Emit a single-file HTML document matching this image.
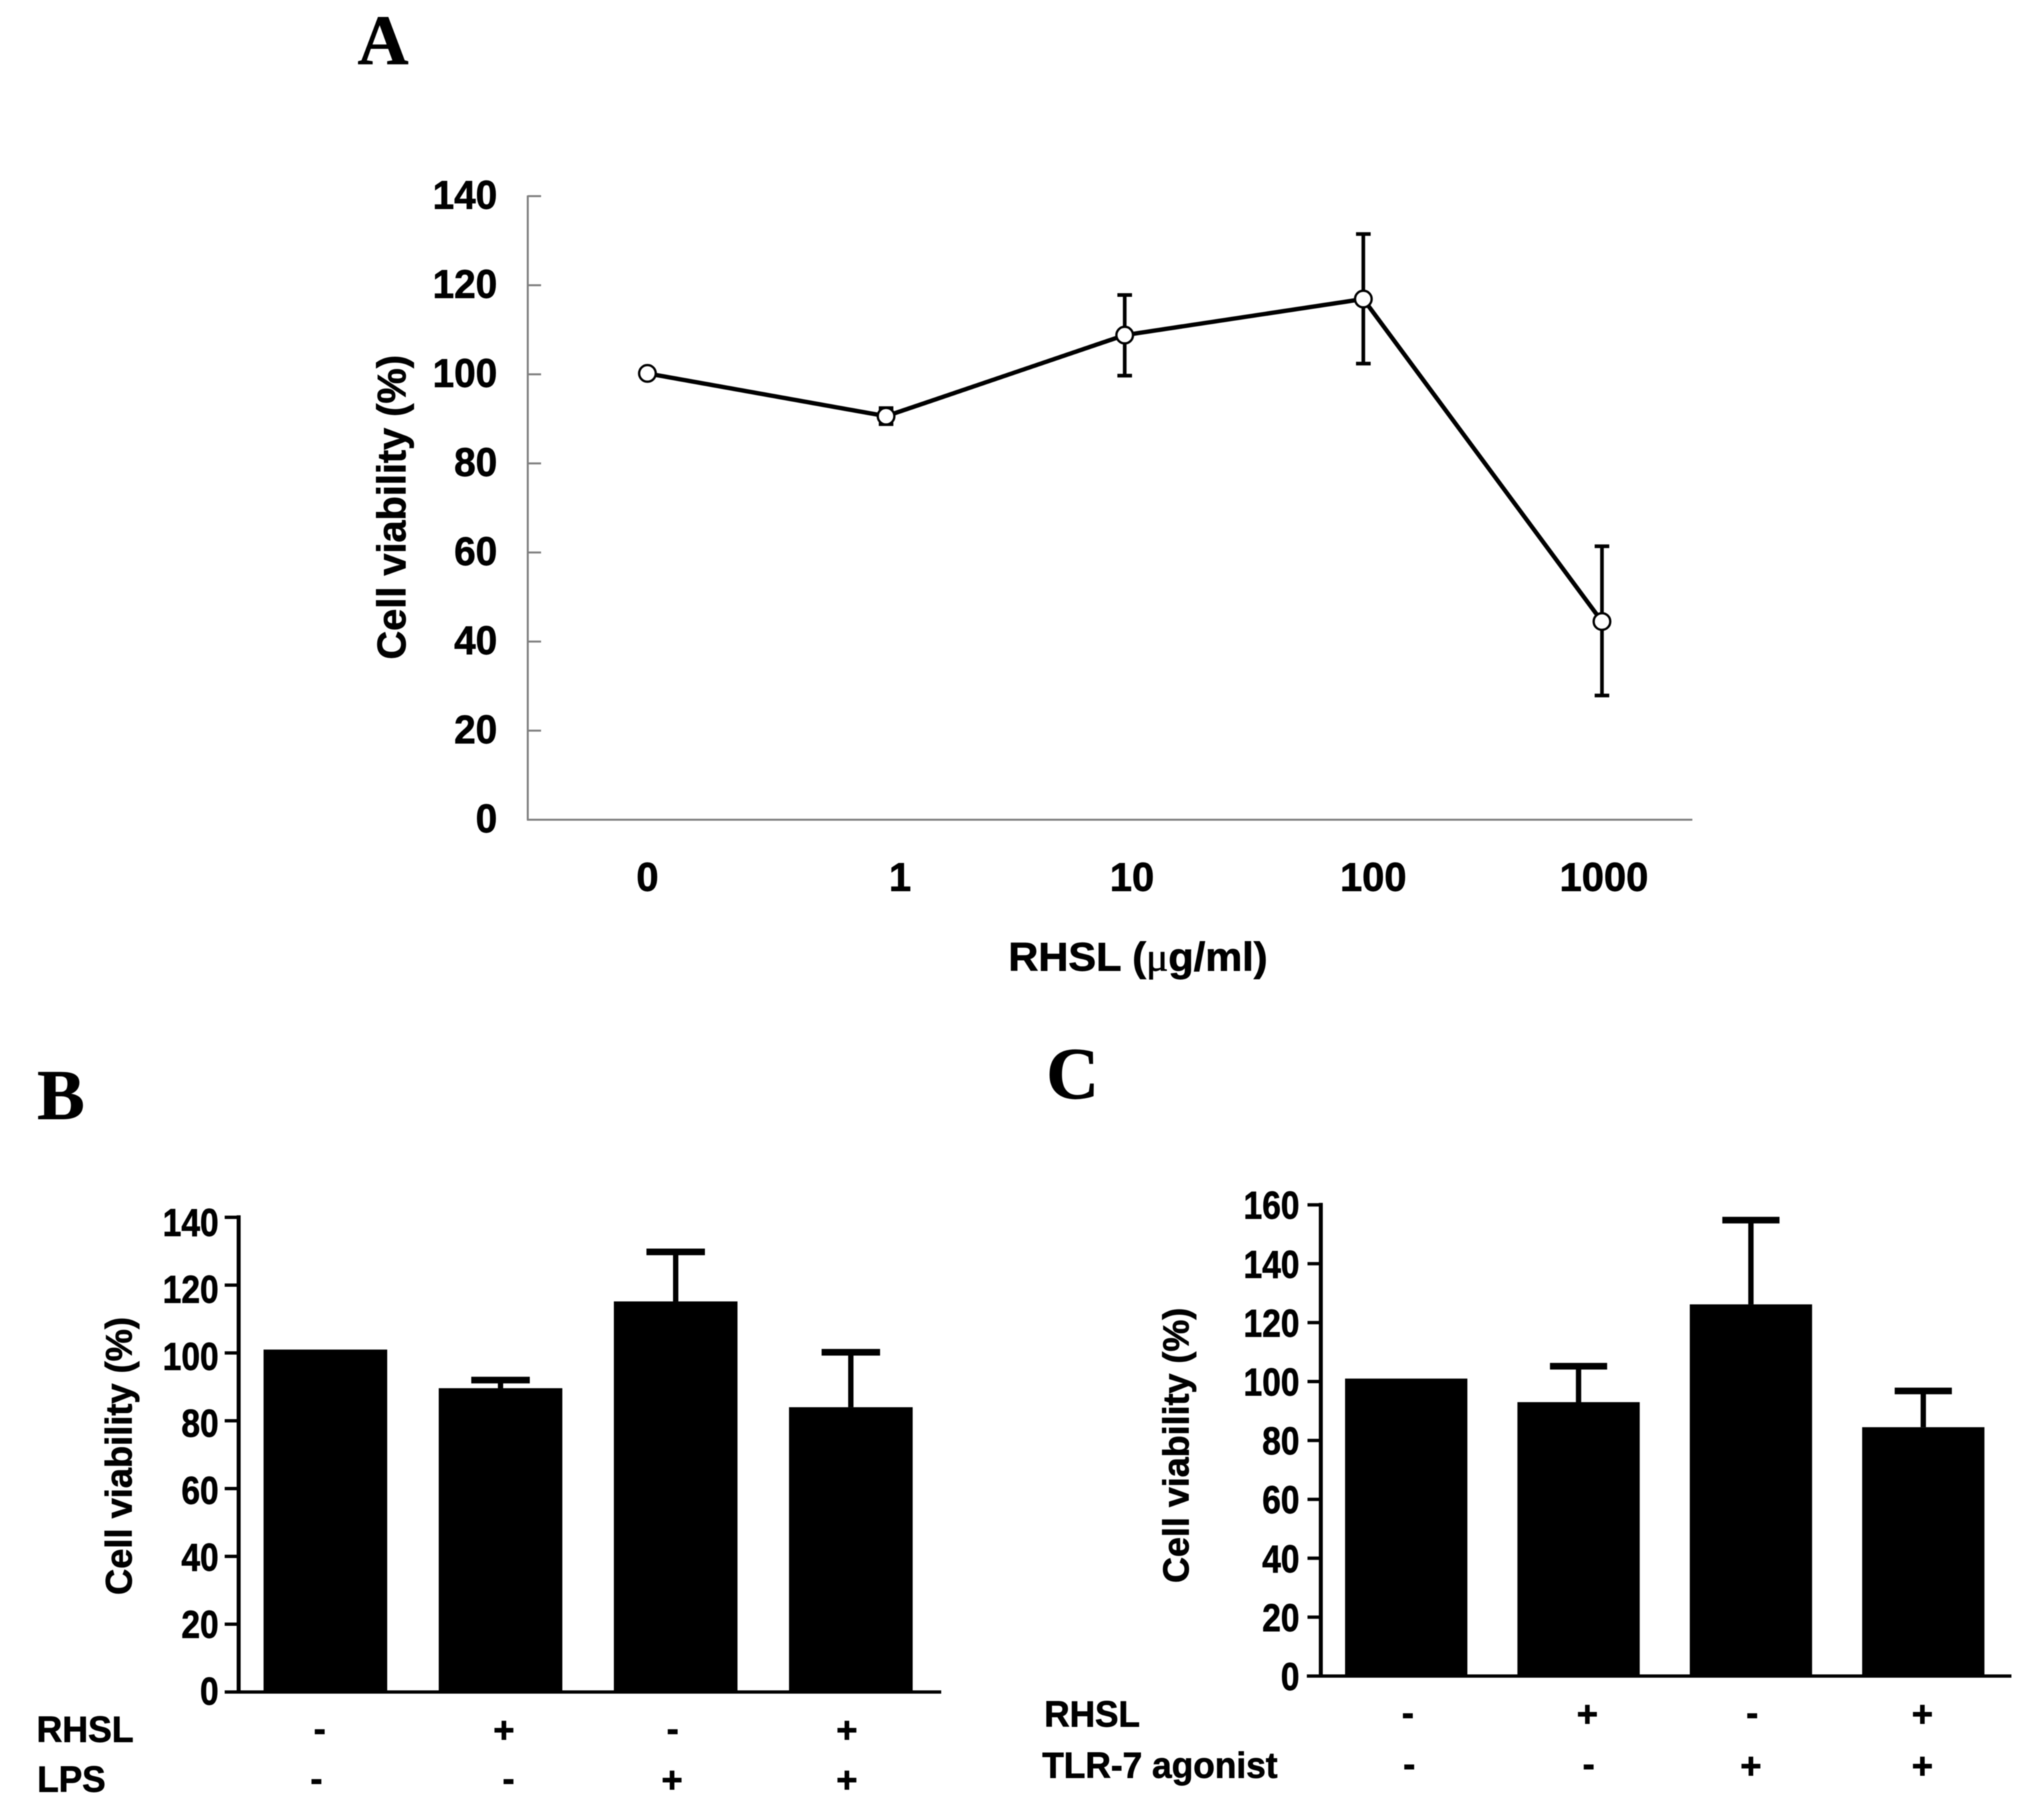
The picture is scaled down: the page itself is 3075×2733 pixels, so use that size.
<!DOCTYPE html>
<html lang="en">
<head>
<meta charset="utf-8">
<title>Cell viability panels</title>
<style>
  html, body { margin: 0; padding: 0; background: #fff; }
  svg { display: block; filter: blur(0.9px); }
  text { font-family: "Liberation Sans", sans-serif; font-weight: 700; fill: #000; stroke: #000; stroke-width: 0.9px; }
  .serif { font-family: "Liberation Serif", serif; font-weight: 700; }
</style>
</head>
<body>
<svg id="figure" xmlns="http://www.w3.org/2000/svg" width="3075" height="2733" viewBox="0 0 3075 2733">
  <rect x="0" y="0" width="3075" height="2733" fill="#fff"/>

  <text class="serif" x="538" y="96" font-size="106">A</text>
  <text class="serif" x="56" y="1683" font-size="107">B</text>
  <text class="serif" x="1574" y="1652" font-size="110">C</text>

  <g id="panel-a"></g>
  <g id="panel-b"></g>
  <g id="panel-c"></g>

  <text transform="translate(610,992) rotate(-90)" font-size="60" textLength="458" lengthAdjust="spacingAndGlyphs">Cell viability (%)</text>
  <text x="1517" y="1460" font-size="60" textLength="390" lengthAdjust="spacingAndGlyphs">RHSL (<tspan style="font-family:'Liberation Serif',serif;font-weight:400">μ</tspan>g/ml)</text>

  <text transform="translate(198,2399) rotate(-90)" font-size="56" textLength="418" lengthAdjust="spacingAndGlyphs">Cell viability (%)</text>
  <text transform="translate(1788,2381) rotate(-90)" font-size="55" textLength="414" lengthAdjust="spacingAndGlyphs">Cell viability (%)</text>

  <g font-size="55" text-anchor="middle">
    <text x="55" y="2620" text-anchor="start" textLength="146" lengthAdjust="spacingAndGlyphs">RHSL</text>
    <text x="56" y="2695" text-anchor="start" textLength="103" lengthAdjust="spacingAndGlyphs">LPS</text>
    <text x="481" y="2619">-</text>
    <text x="758" y="2621">+</text>
    <text x="1012" y="2619">-</text>
    <text x="1274" y="2621">+</text>
    <text x="476" y="2694">-</text>
    <text x="765" y="2694">-</text>
    <text x="1011" y="2696">+</text>
    <text x="1274" y="2696">+</text>
  </g>

  <g font-size="55" text-anchor="middle">
    <text x="1571" y="2597" text-anchor="start" textLength="144" lengthAdjust="spacingAndGlyphs">RHSL</text>
    <text x="1568" y="2674" text-anchor="start" textLength="354" lengthAdjust="spacingAndGlyphs">TLR-7 agonist</text>
    <text x="2118" y="2595">-</text>
    <text x="2388" y="2597">+</text>
    <text x="2636" y="2595">-</text>
    <text x="2892" y="2597">+</text>
    <text x="2120" y="2672">-</text>
    <text x="2390" y="2672">-</text>
    <text x="2634" y="2675">+</text>
    <text x="2892" y="2675">+</text>
  </g>
</svg>

<script>
// Panel A data
const aCategories = ['0', '1', '10', '100', '1000'];
const aValues = [100.2, 90.6, 108.8, 116.9, 44.5];
const aErrorUpper = [100.2, 92.4, 117.8, 131.5, 61.4];
const aErrorLower = [100.2, 88.8, 99.7, 102.4, 27.9];
const aYTicks = [0, 20, 40, 60, 80, 100, 120, 140];

// Panel B data
const bValues = [101, 89.6, 115.2, 84];
const bErrorUpper = [101, 92, 129.8, 100.2];
const bYTicks = [0, 20, 40, 60, 80, 100, 120, 140];

// Panel C data
const cValues = [101, 93, 126.2, 84.5];
const cErrorUpper = [101, 105.2, 154.8, 96.8];
const cYTicks = [0, 20, 40, 60, 80, 100, 120, 140, 160];

const NS = 'http://www.w3.org/2000/svg';
function mk(parent, tag, attrs, content) {
  const el = document.createElementNS(NS, tag);
  for (const k in attrs) el.setAttribute(k, attrs[k]);
  if (content !== undefined) el.textContent = content;
  parent.appendChild(el);
  return el;
}

// Panel A
const gA = document.getElementById('panel-a');
const yA = v => 1233 - 6.7 * v;
const xA = i => 974 + 359 * i;
const axisGray = '#808080';

let el = mk(gA, 'line', {x1: 794, y1: yA(140) - 1, x2: 794, y2: yA(0) + 1, stroke: axisGray, 'stroke-width': 3});


el = mk(gA, 'line', {x1: 793, y1: yA(0), x2: 2546, y2: yA(0), stroke: axisGray, 'stroke-width': 3});



aYTicks.forEach(t => {
  const tick = mk(gA, 'line', {x1: 794, y1: yA(t), x2: 814, y2: yA(t), stroke: axisGray, 'stroke-width': 3});
  
  
  const label = mk(gA, 'text', {transform: 'translate(748,' + (yA(t) + 19) + ') scale(0.97,1)', 'text-anchor': 'end', 'font-size': 60}, String(t));
  
  
});

const xLabelCentres = i => xA(i) + [0, 21, 11, 15, 3][i];
aCategories.forEach((c, i) => {
  const label = mk(gA, 'text', {x: xLabelCentres(i), y: 1340, 'text-anchor': 'middle', 'font-size': 60}, c);
  
  
});

aValues.forEach((v, i) => {
  const hi = aErrorUpper[i], lo = aErrorLower[i];
  if (hi === lo) return;
  const stem = mk(gA, 'line', {x1: xA(i), y1: yA(hi), x2: xA(i), y2: yA(lo), stroke: '#000', 'stroke-width': 5.5});
  
  
  const capTop = mk(gA, 'line', {x1: xA(i) - 11, y1: yA(hi), x2: xA(i) + 11, y2: yA(hi), stroke: '#000', 'stroke-width': 5.5});
  
  
  const capBottom = mk(gA, 'line', {x1: xA(i) - 11, y1: yA(lo), x2: xA(i) + 11, y2: yA(lo), stroke: '#000', 'stroke-width': 5.5});
  
  
});

const linePoints = aValues.map((v, i) => xA(i) + ',' + yA(v)).join(' ');
el = mk(gA, 'polyline', {points: linePoints, fill: 'none', stroke: '#000', 'stroke-width': 6.5, 'stroke-linejoin': 'round'});



aValues.forEach((v, i) => {
  const pt = mk(gA, 'circle', {cx: xA(i), cy: yA(v), r: 12.5, fill: '#fff', stroke: '#000', 'stroke-width': 3.5});
  
  
});

// Panel B
const gB = document.getElementById('panel-b');
const yB = v => 2545 - 5.1 * v;
const xB = i => 489.5 + 263.5 * i;
const barWidthB = 186;

bValues.forEach((v, i) => {
  const stemHeight = bErrorUpper[i] - v;
  if (stemHeight > 0) {
    const stem = mk(gB, 'rect', {x: xB(i) - 4, y: yB(bErrorUpper[i]), width: 8, height: yB(v) - yB(bErrorUpper[i]), fill: '#000'});
    
    
    const cap = mk(gB, 'rect', {x: xB(i) - 44, y: yB(bErrorUpper[i]) - 5, width: 88, height: 10, fill: '#000'});
    
    
  }
  const bar = mk(gB, 'rect', {x: xB(i) - barWidthB / 2, y: yB(v), width: barWidthB, height: yB(0) - yB(v), fill: '#000'});
  
  
});

el = mk(gB, 'line', {x1: 359, y1: yB(140) - 3, x2: 359, y2: yB(0), stroke: '#000', 'stroke-width': 6});


el = mk(gB, 'line', {x1: 340, y1: yB(0), x2: 1416, y2: yB(0), stroke: '#000', 'stroke-width': 5});



bYTicks.forEach(t => {
  const tick = mk(gB, 'line', {x1: 338, y1: yB(t), x2: 359, y2: yB(t), stroke: '#000', 'stroke-width': 5});
  
  
  const label = mk(gB, 'text', {transform: 'translate(329,' + (yB(t) + 19 + 9 * t / 140) + ') scale(0.87,1)', 'text-anchor': 'end', 'font-size': 58}, String(t));
  
  
});

// Panel C
const gC = document.getElementById('panel-c');
const yC = v => 2521 - 4.43 * v;
const xC = i => 2115.5 + 259.3 * i;
const barWidthC = 184;

cValues.forEach((v, i) => {
  const stemHeight = cErrorUpper[i] - v;
  if (stemHeight > 0) {
    const stem = mk(gC, 'rect', {x: xC(i) - 4, y: yC(cErrorUpper[i]), width: 8, height: yC(v) - yC(cErrorUpper[i]), fill: '#000'});
    
    
    const cap = mk(gC, 'rect', {x: xC(i) - 43, y: yC(cErrorUpper[i]) - 5, width: 86, height: 10, fill: '#000'});
    
    
  }
  const bar = mk(gC, 'rect', {x: xC(i) - barWidthC / 2, y: yC(v), width: barWidthC, height: yC(0) - yC(v), fill: '#000'});
  
  
});

el = mk(gC, 'line', {x1: 1987, y1: yC(160) - 3, x2: 1987, y2: yC(0), stroke: '#000', 'stroke-width': 6});


el = mk(gC, 'line', {x1: 1966, y1: yC(0), x2: 3026, y2: yC(0), stroke: '#000', 'stroke-width': 5});



cYTicks.forEach(t => {
  const tick = mk(gC, 'line', {x1: 1967, y1: yC(t), x2: 1987, y2: yC(t), stroke: '#000', 'stroke-width': 5});
  
  
  const label = mk(gC, 'text', {transform: 'translate(1955,' + (yC(t) + 21) + ') scale(0.87,1)', 'text-anchor': 'end', 'font-size': 58}, String(t));
  
  
});
</script>
</body>
</html>
